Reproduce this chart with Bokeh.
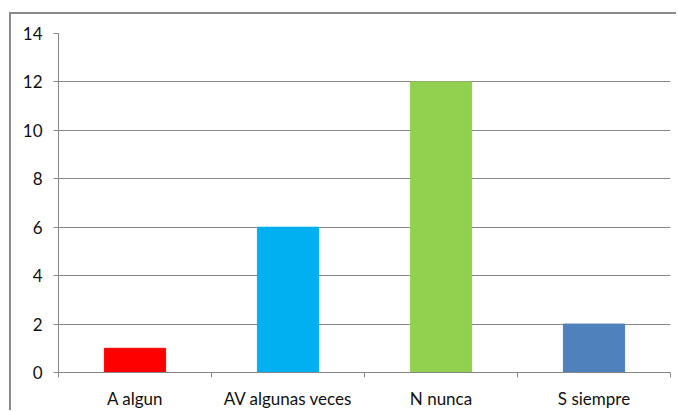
from bokeh.plotting import figure
from bokeh.models import FixedTicker, ColumnDataSource, Range1d
from bokeh.embed import file_html
from bokeh.resources import INLINE

categories = ["A algun", "AV algunas veces", "N nunca", "S siempre"]
counts = [1, 6, 12, 2]
colors = ["#FF0000", "#00B0F0", "#92D050", "#4F81BD"]
y_ticks = [0, 2, 4, 6, 8, 10, 12, 14]

xpos = [i + 0.5 for i in range(len(categories))]
src = ColumnDataSource(dict(x=xpos, top=counts, color=colors))

p = figure(width=667, height=398, output_backend="svg", toolbar_location=None,
           x_range=Range1d(0, len(categories)), y_range=Range1d(0, 14),
           min_border_left=47, min_border_right=8, min_border_top=19, min_border_bottom=40,
           styles={"margin-left": "9px", "margin-top": "12px",
                   "border-left": "2px solid #8a8a8a", "border-top": "2px solid #8a8a8a"})
p.vbar(x="x", top="top", width=0.4, color="color", source=src)

p.outline_line_color = None
p.background_fill_color = "white"
p.border_fill_color = "white"

grid_col = "#868686"
p.xgrid.grid_line_color = None
p.ygrid.grid_line_color = grid_col
p.ygrid.ticker = FixedTicker(ticks=y_ticks)

p.yaxis.ticker = FixedTicker(ticks=y_ticks)
p.yaxis.axis_line_color = grid_col
p.yaxis.major_tick_line_color = grid_col
p.yaxis.major_tick_out = 5
p.yaxis.major_tick_in = 0
p.yaxis.minor_tick_line_color = None
p.yaxis.major_label_standoff = 11

p.xaxis.ticker = FixedTicker(ticks=xpos, minor_ticks=list(range(len(categories) + 1)))
p.xaxis.major_label_overrides = {x: c for x, c in zip(xpos, categories)}
p.xaxis.axis_line_color = grid_col
p.xaxis.major_tick_line_color = None
p.xaxis.major_tick_out = 0
p.xaxis.major_tick_in = 0
p.xaxis.minor_tick_line_color = grid_col
p.xaxis.minor_tick_out = 5
p.xaxis.minor_tick_in = 0
p.xaxis.major_label_standoff = 10

for ax in (p.xaxis, p.yaxis):
    ax.major_label_text_font = "Lato"
    ax.major_label_text_font_size = "17px"
    ax.major_label_text_color = "#111111"

open("out.html", "w").write(file_html(p, INLINE))
